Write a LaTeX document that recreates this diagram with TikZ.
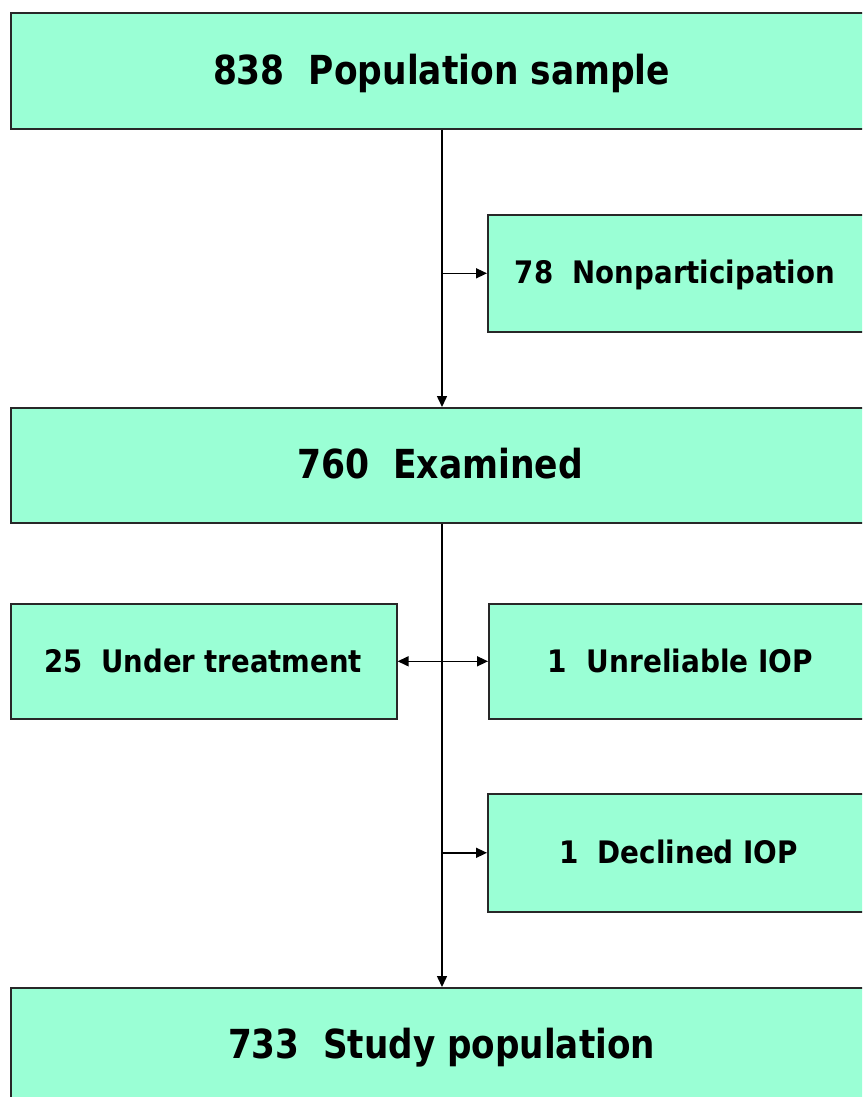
\documentclass[tikz,border=0pt]{standalone}
\usepackage{fontspec}
\setmainfont{DejaVu Sans}
\usepackage{graphicx}
\usetikzlibrary{arrows.meta}
\definecolor{boxfill}{RGB}{154,255,213}
\definecolor{boxline}{RGB}{40,40,40}
\newcommand\fitw[2]{\resizebox{#1}{\height}{#2}}
\tikzset{
  flowbox/.style={draw=boxline, line width=1.6pt, fill=boxfill, anchor=north west, inner sep=0pt, minimum width=#1},
  bigtext/.style={anchor=base, inner sep=0pt, font=\fontsize{40}{48}\selectfont\bfseries},
  smalltext/.style={anchor=base, inner sep=0pt, font=\fontsize{31}{37}\selectfont\bfseries},
  tip/.tip={Triangle[length=11pt,width=10pt]},
  arr/.style={line width=1.5pt, -tip},
  arrb/.style={line width=1.5pt, tip-tip}
}
\begin{document}
\begin{tikzpicture}[x=1pt,y=-1pt]
\useasboundingbox (0,0) rectangle (862,1097);
\clip (0,0) rectangle (862,1097);
\fill[white] (0,0) rectangle (862,1097);
% boxes
\node[flowbox=860pt, minimum height=116pt] (pop) at (10,12) {};
\node[flowbox=383pt, minimum height=117pt] (non) at (487,214) {};
\node[flowbox=860pt, minimum height=115pt] (exa) at (10,407) {};
\node[flowbox=386pt, minimum height=115pt] (und) at (10,603) {};
\node[flowbox=382pt, minimum height=115pt] (unr) at (488,603) {};
\node[flowbox=383pt, minimum height=118pt] (dec) at (487,793) {};
\node[flowbox=860pt, minimum height=118pt] (stu) at (10,987) {};
% texts
\node[bigtext] (tpop) at (441.5,85) {\fitw{457pt}{838\ \ Population sample}};
\node[smalltext] (tnon) at (675,283) {\fitw{320pt}{78\ \ Nonparticipation}};
\node[bigtext] (texa) at (440,478) {\fitw{286pt}{760\ \ Examined}};
\node[smalltext] (tund) at (203,672) {\fitw{318pt}{25\ \ Under treatment}};
\node[smalltext] (tunr) at (680.5,672) {\fitw{265pt}{1\ \ Unreliable IOP}};
\node[smalltext] (tdec) at (678.5,863) {\fitw{239pt}{1\ \ Declined IOP}};
\node[bigtext] (tstu) at (441.5,1058) {\fitw{427pt}{733\ \ Study population}};
% spine
\coordinate (sp) at (442,0);
\draw[arr] (pop.south -| sp) -- (exa.north -| sp);
\draw[arr] (non.west -| sp) -- (non.west);
\draw[arr] (exa.south -| sp) -- (stu.north -| sp);
\draw[arrb] (und.east) -- (unr.west);
\draw[arr] (dec.west -| sp) -- (dec.west);
\end{tikzpicture}
\end{document}
